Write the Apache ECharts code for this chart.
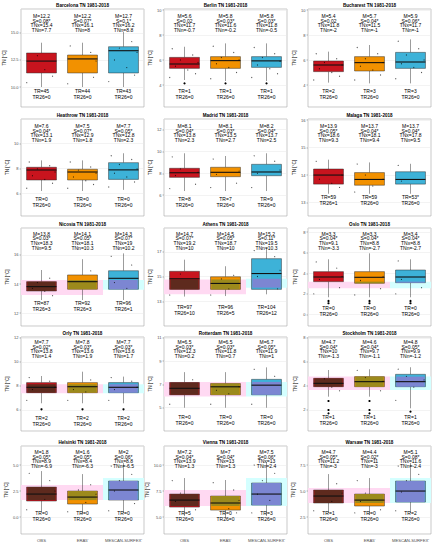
<!DOCTYPE html>
<html><head><meta charset="utf-8">
<script src="https://cdn.jsdelivr.net/npm/echarts@6/dist/echarts.min.js"></script>
<style>html,body{margin:0;padding:0;background:#fff}#c{width:436px;height:550px}</style>
</head><body><div id="c"></div>
<script>
// ---------------- DATA ----------------
const CATEGORIES = ['OBS', "ERA5'", "MESCAN-SURFEX'"];
const STATIONS = ['Barcelona','Berlin','Bucharest','Heathrow','Madrid','Malaga','Nicosia','Athens','Oslo','Orly','Rotterdam','Stockholm','Helsinki','Vienna','Warsaw'];
const PERIOD = 'TN 1981-2018';

// y axis: extent, step, first labelled tick
const Y_MIN = [8.15, 2.24, 2.24, 4.18, 4.1, 12.51, 11.12, 11.08, -1.12, 4.25, 3.25, 0.25, -1.63, 3.37, 0.87];
const Y_MAX = [17.22, 10.08, 10.08, 11.94, 12.96, 16.04, 17.84, 18.92, 8.4, 12.08, 11.08, 8.08, 6.83, 11.83, 9.33];
const Y_STEP = [2.5, 2, 2, 2, 2, 1, 2, 2, 2, 2, 2, 2, 2.5, 2.5, 2.5];
const Y_FIRST_TICK = [10, 4, 4, 6, 6, 13, 12, 13, 0, 6, 5, 2, 0, 5, 2.5];

// box stats [lower whisker, Q1, median, Q3, upper whisker]
const BOX_OBS = [
 [10.0, 11.3, 12.4, 13.15, 14.1],[4.4, 5.33, 5.68, 6.21, 7.06],[4.19, 5.07, 5.6, 5.92, 6.67],
 [6.18, 7.06, 7.86, 8.08, 8.63],[6.38, 7.63, 8.05, 8.46, 9.83],[13.32, 13.67, 14.0, 14.22, 14.56],
 [12.9, 13.52, 13.82, 14.16, 14.96],[13.38, 13.96, 14.82, 15.42, 16.36],[1.67, 3.19, 3.64, 4.16, 5.36],
 [6.56, 7.44, 7.89, 8.28, 8.83],[5.0, 6.11, 6.67, 7.17, 8.06],[3.11, 3.94, 4.22, 4.64, 5.33],
 [0.48, 1.54, 2.21, 2.88, 4.42],[5.1, 5.96, 6.63, 7.21, 8.75],[2.88, 3.85, 4.52, 5.1, 6.63]
];
const BOX_ERA5 = [
 [10.0, 11.3, 12.6, 12.96, 14.1],[4.32, 5.33, 5.95, 6.27, 7.33],[4.13, 5.12, 5.79, 6.27, 7.2],
 [6.18, 7.06, 7.7, 7.92, 8.63],[6.38, 7.69, 8.09, 8.55, 9.58],[13.32, 13.63, 13.84, 14.09, 14.46],
 [12.9, 13.64, 14.16, 14.62, 15.7],[13.42, 13.96, 14.44, 14.98, 15.83],[1.67, 3.03, 3.61, 4.16, 5.94],
 [6.56, 7.44, 7.94, 8.28, 9.19],[5.0, 6.11, 6.8, 7.08, 8.06],[3.11, 3.94, 4.36, 4.78, 5.39],
 [0.29, 1.25, 1.92, 2.5, 4.13],[4.9, 5.67, 6.35, 7.02, 8.56],[2.69, 3.56, 4.13, 4.71, 6.25]
];
const BOX_MESCAN = [
 [10.0, 11.3, 13.36, 13.73, 15.1],[4.32, 5.41, 5.93, 6.27, 7.33],[4.13, 5.33, 5.84, 6.61, 7.65],
 [6.27, 7.11, 7.87, 8.45, 9.2],[6.38, 7.78, 8.12, 8.82, 9.83],[13.32, 13.67, 13.84, 14.12, 14.41],
 [12.9, 13.64, 14.39, 14.91, 16.1],[13.56, 13.96, 15.24, 16.44, 17.3],[1.67, 3.09, 3.64, 4.32, 5.36],
 [6.56, 7.44, 7.89, 8.28, 8.78],[5.0, 6.11, 6.94, 7.44, 8.47],[2.14, 3.94, 4.36, 4.97, 5.56],
 [0.38, 1.63, 2.6, 3.46, 5.19],[5.1, 6.15, 7.21, 8.27, 10.29],[2.88, 3.94, 5.0, 5.96, 7.69]
];

// yearly values shown as jittered points (read approximately)
const PTS_OBS = [
 [13.9,13.4,12.9,12.6,12.1,11.6,11.0,10.4],[6.9,6.4,6.0,5.8,5.5,5.2,4.9,4.6],[6.5,6.1,5.8,5.6,5.3,5.0,4.7,4.4],
 [8.5,8.2,7.95,7.7,7.4,7.1,6.8,6.4],[9.5,8.9,8.4,8.1,7.8,7.5,7.0,6.6],[14.5,14.3,14.15,14.0,13.85,13.7,13.55,13.4],
 [14.8,14.4,14.1,13.9,13.7,13.5,13.2,13.0],[16.1,15.6,15.2,14.9,14.5,14.1,13.8,13.5],[5.1,4.5,4.0,3.7,3.4,3.1,2.6,2.0],
 [8.7,8.4,8.1,7.9,7.7,7.4,7.1,6.8],[7.9,7.4,7.0,6.7,6.4,6.1,5.7,5.3],[5.2,4.9,4.6,4.3,4.1,3.9,3.6,3.3],
 [4.2,3.5,2.9,2.5,2.1,1.7,1.2,0.7],[8.5,7.8,7.3,6.9,6.5,6.1,5.7,5.3],[6.4,5.7,5.2,4.8,4.4,4.0,3.5,3.1]
];
const PTS_ERA5 = [
 [13.8,13.2,12.8,12.4,11.9,11.5,10.9,10.3],[7.1,6.6,6.2,6.0,5.7,5.4,5.0,4.5],[7.0,6.5,6.1,5.8,5.5,5.2,4.8,4.4],
 [8.5,8.1,7.85,7.6,7.3,7.0,6.7,6.4],[9.3,8.8,8.5,8.2,7.9,7.6,7.1,6.7],[14.4,14.2,14.0,13.85,13.75,13.6,13.5,13.38],
 [15.4,14.9,14.5,14.2,13.9,13.6,13.3,13.0],[15.6,15.1,14.8,14.5,14.2,14.0,13.7,13.5],[5.6,4.8,4.1,3.7,3.3,3.0,2.5,1.9],
 [9.0,8.5,8.2,8.0,7.7,7.5,7.1,6.8],[7.9,7.3,7.0,6.8,6.5,6.2,5.8,5.3],[5.3,5.0,4.7,4.4,4.2,4.0,3.6,3.3],
 [3.9,3.1,2.6,2.2,1.8,1.4,0.9,0.5],[8.3,7.6,7.1,6.6,6.2,5.8,5.4,5.1],[6.0,5.3,4.8,4.4,4.0,3.6,3.2,2.9]
];
const PTS_MESCAN = [
 [14.8,14.2,13.6,13.2,12.5,11.8,11.1,10.5],[7.0,6.5,6.2,5.9,5.6,5.3,4.9,4.6],[7.5,6.9,6.4,6.0,5.7,5.4,5.0,4.5],
 [9.0,8.7,8.3,7.95,7.6,7.3,6.9,6.5],[9.6,9.1,8.7,8.3,8.0,7.7,7.2,6.7],[14.35,14.2,14.05,13.9,13.78,13.65,13.5,13.4],
 [15.9,15.3,14.8,14.5,14.1,13.7,13.3,13.0],[17.1,16.6,16.0,15.5,15.0,14.5,14.0,13.7],[5.2,4.6,4.1,3.8,3.4,3.1,2.6,2.0],
 [8.7,8.4,8.1,7.9,7.7,7.4,7.1,6.8],[8.3,7.7,7.3,7.0,6.6,6.3,5.8,5.3],[5.4,5.1,4.8,4.5,4.2,3.9,3.4,2.8],
 [4.9,4.1,3.5,3.0,2.5,1.9,1.3,0.6],[10.0,9.2,8.5,7.8,7.2,6.6,6.0,5.4],[7.4,6.6,6.0,5.4,4.9,4.3,3.7,3.1]
];
const OUT_OBS = [[],[4.13],[],[],[],[],[],[],[1.31,1.09],[6.06],[],[2.75,2.0,1.72],[],[],[]];
const OUT_ERA5 = [[],[4.13],[],[],[],[],[],[],[1.31,1.09],[6.06],[],[2.75,2.0,1.72],[],[],[]];
const OUT_MESCAN = [[],[4.13],[],[],[],[],[],[],[1.31,1.09],[6.06],[],[1.86],[],[],[]];

// shaded reference bands [low, high]
const BAND_PINK = [null,null,null,null,null,null,[13.25,14.27],[13.56,14.76],[2.54,3.19],[7.39,8.14],[5.97,7.22],[3.67,4.78],[1.63,3.08],[6.06,7.6],[3.85,5.29]];
const BAND_CYAN = [null,null,null,null,null,null,[13.6,14.27],[14.1,14.82],[2.54,3.19],[7.39,8.14],[5.97,7.22],[3.67,4.78],[1.63,3.75],[6.06,8.75],[3.85,6.25]];

// annotation texts per station: [OBS, ERA5, MESCAN]
const M_TXT = [['12.2','12.2','12.7'],['5.6','5.8','5.8'],['5.4','5.7','5.9'],['7.6','7.5','7.7'],['8.1','8.1','8.2'],['13.9','13.7','13.7'],['13.8','14.1','14.3'],['14.7','14.5','15.2'],['3.3','3.3','3.4'],['7.7','7.8','7.7'],['6.5','6.5','6.7'],['4.7','4.6','4.8'],['1.8','1.6','2'],['7.2','7','7.5'],['4.7','4.4','5.1']];
const S_TXT = [['0.08*','0.07*','0.1*'],['0.02','0.03*','0.03*'],['0.02','0.04*','0.06*'],['0.04*','0.07*','0.05*'],['0.04*','0.03*','0.04*'],['0.05*','0.04*','0.04*'],['0.03*','0.05*','0.07*'],['0.07*','0.05*','0.11*'],['0.04*','0.04*','0.04*'],['0.02*','0.03*','0.03*'],['0.03*','0.03*','0.05*'],['0.04*','0.04*','0.05*'],['0.05*','0.05*','0.06*'],['0.04*','0.04*','0.06*'],['0.05*','0.02*','0.08*']];
const TNX_TXT = [['15.4','16.1','16.2'],['11.7','11.6','11.8'],['11.8','11.5','11.7'],['13.1','12.9','12.8'],['13.8','13.5','13.7'],['18.6','18.1','17.8'],['18.3','18.1','19'],['19.2','18.7','19.5'],['9.1','8.8','8.8'],['13.8','13.6','13.6'],['12.3','11.8','11.9'],['10','9.7','9.9'],['8.9','8.4','8.8'],['13.9','13','13'],['11.2','11','11.6']];
const TNN_TXT = [['7.7','8','8.8'],['-0.7','-0.2','-0.5'],['-2','-1','-1'],['1.9','1.8','2.3'],['2.3','2.7','2.5'],['9.3','9.4','9.5'],['9.5','10.3','10.2'],['10','10','10.3'],['-3.3','-2.7','-2.7'],['1.4','1.9','1.7'],['0.2','0.7','1'],['-1.3','-1.1','-1.2'],['-6.9','-6.3','-6.5'],['1.3','1.3','2.4'],['-3','-3','-2.4']];
const TR_TXT = [['45','44','43'],['1','1','1'],['2','3','3'],['0','0','0'],['8','7','9'],['59','59','53*'],['87','92','96'],['97','96','104'],['0','0','0'],['2','2','2'],['0','0','0'],['1','1','1'],['0','0','0'],['5','0','3'],['1','0','2']];
const TR26_TXT = [['0','0','0'],['0','0','0'],['0','0','0'],['0','0','0'],['0','0','0'],['1','0','0'],['3','3','1'],['10','5','12'],['0','0','0'],['0','0','0'],['0','0','0'],['0','0','0'],['0','0','0'],['0','0','0'],['0','0','0']];

// ---------------- LAYOUT / STYLE ----------------
const COL_LEFT = [21, 164, 308], COL_W = 123;
const ROW_TOP = [9, 119, 228, 337, 446], ROW_H = [98, 97, 98, 94, 88];
const TOP_OFF = [7, 7, 5.5, 5, 6];
const BOTTOM_OFF = [16.3,16.3,16.3,16.7,16.7,18.7,23.3,18.7,17.7,12.7,13.7,13.7,21,21,21];
const LINE_STEP = 4.7;
const FONT = 'Liberation Sans, Arial, Helvetica, sans-serif';
const FILL = ['#c8141e', '#f29100', '#3db2d8'];
const BLEND = ['#5e2a1e', '#9c8a1c', '#7c86d2'];
const PINK = '#ffd9f2', CYAN = '#d4ffff';
const BOX_FRAC = 0.73;
const JITTER = [-0.3, 0.2, -0.1, 0.33, -0.22, 0.08, 0.27, -0.36];

const BOXES = [BOX_OBS, BOX_ERA5, BOX_MESCAN];
const PTS = [PTS_OBS, PTS_ERA5, PTS_MESCAN];
const OUTS = [OUT_OBS, OUT_ERA5, OUT_MESCAN];

function txt(x, y, t, size, bold) {
  return {type:'text', x:x, y:y, silent:true, style:{text:t, fontSize:size, fontWeight: bold ? 'bold' : 'normal', fontFamily:FONT, fill:'#000', align:'center', verticalAlign:'middle', textAlign:'center', textVerticalAlign:'middle'}};
}

function renderPanel(p) {
  const row = Math.floor(p / 3);
  return function (params, api) {
    const c = api.value(0);
    const cs = params.coordSys;
    const bw = api.size([1, 0])[0];
    const cx = api.coord([c, api.value(3)])[0];
    const yLo = api.coord([c, api.value(1)])[1];
    const yQ1 = api.coord([c, api.value(2)])[1];
    const yMed = api.coord([c, api.value(3)])[1];
    const yQ3 = api.coord([c, api.value(4)])[1];
    const yHi = api.coord([c, api.value(5)])[1];
    const half = bw * BOX_FRAC / 2;
    const ch = [];
    const band = (c < 2 ? BAND_PINK : BAND_CYAN)[p];
    let bTop = 0, bBot = 0;
    if (band) {
      bTop = api.coord([c, band[1]])[1];
      bBot = api.coord([c, band[0]])[1];
      ch.push({type:'rect', shape:{x:cx - bw/2, y:bTop, width:bw, height:bBot - bTop}, style:{fill: c < 2 ? PINK : CYAN}});
    }
    const ws = {stroke:'#222', lineWidth:0.45};
    ch.push({type:'line', shape:{x1:cx, y1:yHi, x2:cx, y2:yQ3}, style:ws});
    ch.push({type:'line', shape:{x1:cx, y1:yQ1, x2:cx, y2:yLo}, style:ws});
    ch.push({type:'rect', shape:{x:cx - half, y:yQ3, width:2*half, height:yQ1 - yQ3}, style:{fill:FILL[c], stroke:'#222', lineWidth:0.45}});
    if (band) {
      const t = Math.max(bTop, yQ3), b = Math.min(bBot, yQ1);
      if (b > t) ch.push({type:'rect', shape:{x:cx - half + 0.8, y:t, width:2*half - 1.6, height:b - t}, style:{fill:BLEND[c]}});
    }
    ch.push({type:'line', shape:{x1:cx - half, y1:yMed, x2:cx + half, y2:yMed}, style:{stroke:'#111', lineWidth:1.1}});
    PTS[c][p].forEach(function (v, i) {
      const y = api.coord([c, v])[1];
      ch.push({type:'circle', shape:{cx:cx + JITTER[i % JITTER.length] * bw, cy:y, r:0.55}, style:{fill:'rgba(0,0,0,0.7)'}});
    });
    OUTS[c][p].forEach(function (v) {
      const y = api.coord([c, v])[1];
      ch.push({type:'circle', shape:{cx:cx, cy:y, r:1.1}, style:{fill:'#000'}});
    });
    const lines = ['M=' + M_TXT[p][c], 'S=' + S_TXT[p][c], 'TNx=' + TNX_TXT[p][c], 'TNn=' + TNN_TXT[p][c]];
    lines.forEach(function (t, i) { ch.push(txt(cx, cs.y + TOP_OFF[row] + i * LINE_STEP, t, 5)); });
    const yb = cs.y + cs.height - BOTTOM_OFF[p];
    ch.push(txt(cx, yb, 'TR=' + TR_TXT[p][c], 5));
    ch.push(txt(cx, yb + 6, 'TR26=' + TR26_TXT[p][c], 5));
    return {type:'group', children:ch};
  };
}

const grids = [], xAxes = [], yAxes = [], series = [], graphics = [];
STATIONS.forEach(function (name, p) {
  const row = Math.floor(p / 3), col = p % 3;
  const left = COL_LEFT[col], top = ROW_TOP[row];
  grids.push({left:left, top:top, width:COL_W, height:ROW_H[row], show:true, borderColor:'#a6a6a6', borderWidth:0.6, backgroundColor:'#fff', containLabel:false, outerBoundsMode:'none'});
  xAxes.push({type:'category', gridIndex:p, data:CATEGORIES, axisLine:{show:false}, axisTick:{show:false}, splitLine:{show:false},
    axisLabel:{show: row === 4, fontSize:4.2, color:'#4d4d4d', fontFamily:FONT, margin:4, interval:0}});
  const step = Y_STEP[p], first = Y_FIRST_TICK[p];
  const ya = {type:'value', gridIndex:p, max:Y_MAX[p], name:'TN [°C]', nameLocation:'middle', nameRotate:90, nameGap:10,
    nameTextStyle:{fontSize:4.6, fontFamily:FONT, color:'#000'},
    axisLine:{show:false}, axisTick:{show:true, length:1.5, lineStyle:{color:'#555', width:0.4}},
    splitLine:{show:true, lineStyle:{color:'#e6e6e6', width:0.5}},
    axisLabel:{fontSize:4, color:'#4d4d4d', fontFamily:FONT, margin:2.5, showMinLabel:false, showMaxLabel:false,
      formatter: function (v) { return step % 1 !== 0 ? v.toFixed(1) : String(Math.round(v)); }}};
  if (Math.abs(first / step - Math.round(first / step)) < 1e-6) {
    ya.min = Y_MIN[p]; ya.minInterval = step; ya.maxInterval = step;
  } else {
    ya.min = first - step * Math.round((first - Y_MIN[p]) / step); ya.interval = step;
  }
  yAxes.push(ya);
  series.push({type:'custom', xAxisIndex:p, yAxisIndex:p, renderItem:renderPanel(p), clip:false,
    encode:{x:0, y:[1,2,3,4,5]}, silent:true,
    data:[0,1,2].map(function (c) { return [c].concat(BOXES[c][p]); })});
  graphics.push(txt(left + COL_W / 2, top - 4, name + ' ' + PERIOD, 4.6, true));
});

const chart = echarts.init(document.getElementById('c'), null, {renderer:'svg'});
chart.setOption({animation:false, backgroundColor:'#fff', grid:grids, xAxis:xAxes, yAxis:yAxes, series:series, graphic:graphics});
</script>
</body></html>
